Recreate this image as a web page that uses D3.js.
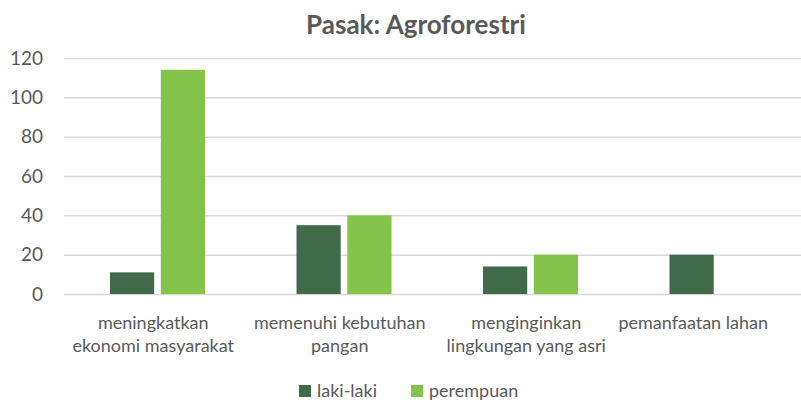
<!DOCTYPE html>
<html>
<head>
<meta charset="utf-8">
<script src="https://cdn.jsdelivr.net/npm/d3@7"></script>
<style>
  body { margin: 0; background: #fff; }
  svg { display: block; font-family: Lato, "Open Sans", sans-serif; }
</style>
</head>
<body>
<svg width="801" height="400"></svg>
<script>
// data
var categories = [
    ["meningkatkan", "ekonomi masyarakat"],
    ["memenuhi kebutuhan", "pangan"],
    ["menginginkan", "lingkungan yang asri"],
    ["pemanfaatan lahan"]
];
var seriesNames = ["laki-laki", "perempuan"];
var lakiLaki = [11, 35, 14, 20];
var perempuan = [114, 40, 20, 0];
var yTicks = [0, 20, 40, 60, 80, 100, 120];

var svg = d3.select("svg"),
    margin = { top: 58, right: 0, bottom: 106, left: 64 },
    width = 746,
    height = +svg.attr("height") - margin.top - margin.bottom;

// scales
var x = d3.scaleBand().domain(d3.range(categories.length)).range([0, width]).padding(0);
var x1 = d3.scaleBand().domain(seriesNames).range([46, 141]).paddingInner(0.13);
var y = d3.scaleLinear().domain([0, 120]).range([height, 0]);

var color = d3.scaleOrdinal().domain(seriesNames).range(["#416A4A", "#84C44A"]);

var g = svg.append("g")
    .attr("transform", "translate(" + margin.left + "," + margin.top + ")");

// gridlines
g.append("g")
    .attr("class", "grid")
    .call(d3.axisLeft(y).tickValues(yTicks).tickSize(-(801 - margin.left)).tickFormat(""))
    .call(function (s) {
        s.select(".domain").remove();
        s.selectAll("line").attr("stroke", "#D9D9D9").attr("stroke-width", 1.5);
    });

// y axis labels
g.append("g")
    .call(d3.axisLeft(y).tickValues(yTicks).tickSize(0).tickPadding(21))
    .call(function (s) {
        s.select(".domain").remove();
        s.selectAll("text")
            .attr("fill", "#595959")
            .style("font-size", "19px")
            .style("font-family", "Lato, sans-serif");
    });

// bars
var rows = categories.map(function (c, i) {
    return { i: i, values: [lakiLaki[i], perempuan[i]] };
});

var groups = g.selectAll(".grp")
    .data(rows)
    .enter().append("g")
    .attr("class", "grp")
    .attr("transform", function (d) { return "translate(" + x(d.i) + ",0)"; });

groups.selectAll("rect")
    .data(function (d) {
        return seriesNames.map(function (s, k) { return { key: s, value: d.values[k] }; });
    })
    .enter().append("rect")
    .filter(function (d) { return d.value > 0; })
    .attr("x", function (d) { return x1(d.key); })
    .attr("y", function (d) { return y(d.value); })
    .attr("width", x1.bandwidth())
    .attr("height", function (d) { return height - y(d.value); })
    .attr("fill", function (d) { return color(d.key); });

// category labels (kept inside the chart on the right, like excel does)
var labels = g.append("g")
    .attr("transform", "translate(0," + height + ")");

var maxRight = 768 - margin.left;

labels.selectAll("text")
    .data(categories)
    .enter().append("text")
    .attr("y", 35)
    .attr("text-anchor", "middle")
    .attr("fill", "#595959")
    .style("font-size", "18px")
    .each(function (d, i) {
        var t = d3.select(this);
        d.forEach(function (line, k) {
            t.append("tspan")
                .attr("dy", k === 0 ? 0 : 23)
                .text(line);
        });
        var half = this.getBBox().width / 2;
        var cx = Math.min(x(i) + x.bandwidth() / 2 - 4, maxRight - half);
        t.attr("x", cx);
        t.selectAll("tspan").attr("x", cx);
    });

// title
svg.append("text")
    .attr("x", 416)
    .attr("y", 34)
    .attr("text-anchor", "middle")
    .attr("fill", "#595959")
    .style("font-size", "26px")
    .style("font-weight", "bold")
    .text("Pasak: Agroforestri");

// legend
var legendX = [299, 411];
var legend = svg.append("g");
seriesNames.forEach(function (s, k) {
    legend.append("rect")
        .attr("x", legendX[k])
        .attr("y", 385)
        .attr("width", 12)
        .attr("height", 12)
        .attr("fill", color(s));
    legend.append("text")
        .attr("x", legendX[k] + 18)
        .attr("y", 397)
        .attr("fill", "#595959")
        .style("font-size", "18px")
        .text(s);
});
</script>
</body>
</html>
